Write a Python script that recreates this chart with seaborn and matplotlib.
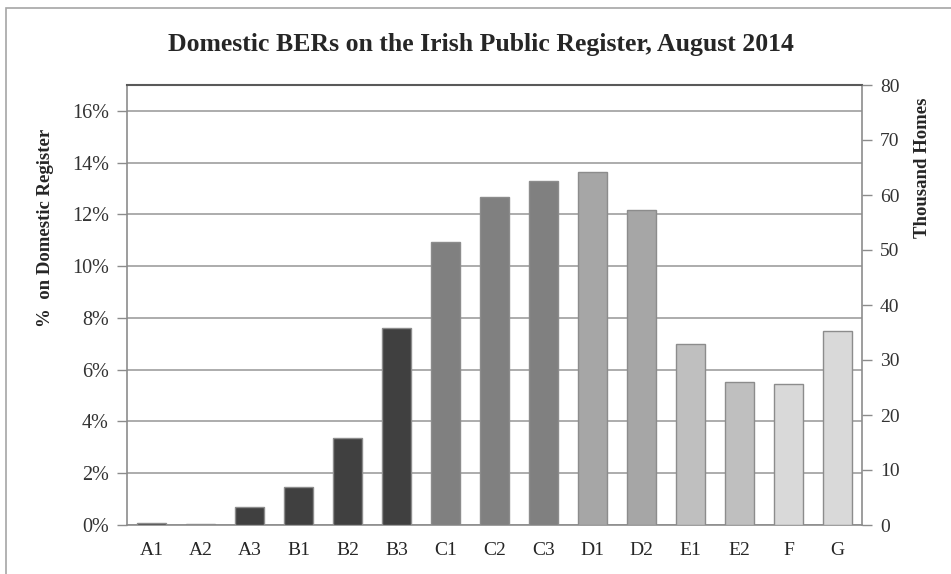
import matplotlib
matplotlib.use("Agg")
import matplotlib.pyplot as plt
import seaborn as sns
import pandas as pd
from matplotlib.patches import Rectangle
from matplotlib.ticker import FuncFormatter, MultipleLocator

# BER grades and share of the domestic register (%)
grades = ["A1", "A2", "A3", "B1", "B2", "B3", "C1", "C2", "C3",
          "D1", "D2", "E1", "E2", "F", "G"]
share_pct = [0.06, 0.05, 0.68, 1.47, 3.37, 7.60, 10.93, 12.69, 13.31,
             13.62, 12.17, 7.01, 5.54, 5.46, 7.50]
bar_colors = ["#404040"] * 6 + ["#808080"] * 3 + ["#a6a6a6"] * 2 + \
             ["#bfbfbf"] * 2 + ["#d9d9d9"] * 2

df = pd.DataFrame({"Grade": grades, "Share": share_pct})

sns.set_style("white")
plt.rcParams["font.family"] = ["Liberation Serif", "DejaVu Serif"]

fig = plt.figure(figsize=(9.51, 5.74), dpi=100)
ax = fig.add_axes([127 / 951, 49 / 574, 735 / 951, 440 / 574])

sns.barplot(data=df, x="Grade", y="Share", hue="Grade", palette=bar_colors,
            legend=False, width=0.59, edgecolor="#8c8c8c", linewidth=1.0,
            saturation=1, ax=ax, zorder=3)

ax.set_xlim(-0.5, len(grades) - 0.5)
ax.set_ylim(0, 17)
ax.yaxis.set_major_locator(MultipleLocator(2))
ax.yaxis.set_major_formatter(FuncFormatter(lambda v, _: f"{v:.0f}%"))
ax.grid(axis="y", color="#a6a6a6", linewidth=1.3, zorder=0)
ax.set_axisbelow(True)

# x ticks sit between the categories
ax.set_xticks([i - 0.5 for i in range(len(grades) + 1)], minor=True)
ax.tick_params(axis="x", which="major", length=0, pad=12, labelsize=14, colors="#262626")
ax.tick_params(axis="x", which="minor", length=6, width=1, color="#8c8c8c", direction="out")
ax.tick_params(axis="y", length=7, width=1, color="#8c8c8c", direction="out",
               labelsize=14.5, labelcolor="#333333", pad=6)
ax.set_xlabel("")
ax.set_ylabel("%  on Domestic Register", fontsize=13.5, fontweight="bold")
ax.yaxis.set_label_coords((54 - 127) / 735, (525 - 228) / 440)

for side in ["left", "bottom", "right"]:
    ax.spines[side].set_color("#8c8c8c")
    ax.spines[side].set_linewidth(1.2)
ax.spines["top"].set_color("#595959")
ax.spines["top"].set_linewidth(1.5)

# secondary axis in thousand homes
ax2 = ax.twinx()
ax2.set_ylim(0, 80)
ax2.yaxis.set_major_locator(MultipleLocator(10))
ax2.tick_params(axis="y", length=7, width=1, color="#8c8c8c", direction="out",
                labelsize=14, labelcolor="#333333", pad=6)
ax2.set_ylabel("Thousand Homes", fontsize=13.5, fontweight="bold")
ax2.yaxis.set_label_coords((914 - 127) / 735, (525 - 168) / 440)
for side in ["left", "bottom", "right", "top"]:
    ax2.spines[side].set_visible(False)

fig.suptitle("Domestic BERs on the Irish Public Register, August 2014",
             x=481 / 951, y=1 - 45 / 574, va="center", fontsize=18.5, fontweight="bold")

# chart area border
fig.add_artist(Rectangle((6 / 951, -0.05), 1.0, 1 - 8 / 574 + 0.05,
                         transform=fig.transFigure, fill=False,
                         edgecolor="#a6a6a6", linewidth=1.2))

fig.savefig("out.png", dpi=100, facecolor="white")
